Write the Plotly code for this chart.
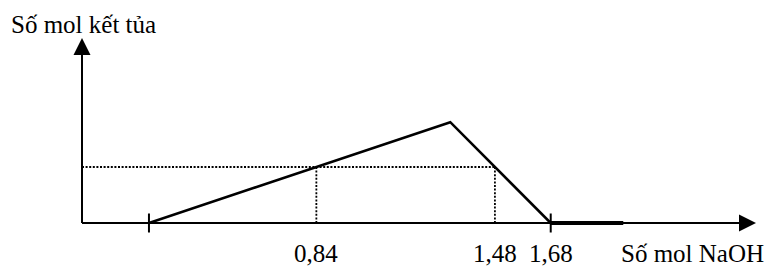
import plotly.graph_objects as go

# Data (mol NaOH vs mol precipitate)
curve_x = [0.24, 1.32, 1.68]
curve_y = [0.0, 0.36, 0.0]
after_x = [1.68, 1.94]
after_y = [0.0, 0.0]
level_y = 0.2
marked_x = [0.84, 1.48]
tick_labels = ["0,84", "1,48", "1,68"]
tick_vals = [0.84, 1.48, 1.68]
start_tick = [0.24, 1.68]
x_title = "Số mol NaOH"
y_title = "Số mol kết tủa"

W, H = 775, 274
x_origin_px, y_origin_px = 82, 223
kx, ky = 279.0, 280.0
x_range = [-x_origin_px / kx, (W - x_origin_px) / kx]
y_range = [-(H - y_origin_px) / ky, y_origin_px / ky]
x_axis_end = (756 - x_origin_px) / kx
y_axis_end = (y_origin_px - 38) / ky
tick_half = 9.5 / ky

FONT = "Liberation Serif"
FS = 25
fig = go.Figure()

# dotted guide lines
dot = dict(color="black", width=1.8, dash="2px,1.6px")
fig.add_trace(go.Scatter(x=[0, marked_x[1]], y=[level_y, level_y], mode="lines",
                         line=dot, showlegend=False))
for mx in marked_x:
    fig.add_trace(go.Scatter(x=[mx, mx], y=[0, level_y], mode="lines",
                             line=dot, showlegend=False))

# axes lines
fig.add_trace(go.Scatter(x=[0, x_axis_end - 14 / kx], y=[0, 0], mode="lines",
                         line=dict(color="black", width=2), showlegend=False))
fig.add_trace(go.Scatter(x=[0, 0], y=[0, y_axis_end - 14 / ky], mode="lines",
                         line=dict(color="black", width=2), showlegend=False))

# tick marks
for tx in start_tick:
    fig.add_trace(go.Scatter(x=[tx, tx], y=[-tick_half, tick_half], mode="lines",
                             line=dict(color="black", width=2), showlegend=False))

# main curve
fig.add_trace(go.Scatter(x=curve_x, y=curve_y, mode="lines",
                         line=dict(color="black", width=2.5), showlegend=False))
fig.add_trace(go.Scatter(x=after_x, y=after_y, mode="lines",
                         line=dict(color="black", width=4), showlegend=False))

annotations = []
# arrowheads
annotations.append(dict(x=x_axis_end, y=0, ax=x_axis_end - 20 / kx, ay=0, xref="x", yref="y",
                        axref="x", ayref="y", showarrow=True, arrowhead=2, arrowsize=1.7,
                        arrowwidth=2, arrowcolor="black", text=""))
annotations.append(dict(x=0, y=y_axis_end, ax=0, ay=y_axis_end - 20 / ky, xref="x", yref="y",
                        axref="x", ayref="y", showarrow=True, arrowhead=2, arrowsize=1.7,
                        arrowwidth=2, arrowcolor="black", text=""))
# tick labels
for tv, tl in zip(tick_vals, tick_labels):
    annotations.append(dict(x=tv, y=0, xref="x", yref="y", text=tl, showarrow=False,
                            yshift=-30, font=dict(family=FONT, size=FS, color="black")))
annotations.append(dict(x=619 / W, y=0, xref="paper", yref="y", xanchor="left", text=x_title,
                        showarrow=False, yshift=-30, font=dict(family=FONT, size=FS, color="black")))
annotations.append(dict(x=9 / W, y=1 - 24 / H, xref="paper", yref="paper", xanchor="left",
                        yanchor="middle", text=y_title, showarrow=False,
                        font=dict(family=FONT, size=FS, color="black")))

fig.update_layout(width=W, height=H, margin=dict(l=0, r=0, t=0, b=0),
                  paper_bgcolor="white", plot_bgcolor="white", annotations=annotations,
                  xaxis=dict(range=x_range, visible=False, fixedrange=True),
                  yaxis=dict(range=y_range, visible=False, fixedrange=True))
fig.write_html("out.html")
